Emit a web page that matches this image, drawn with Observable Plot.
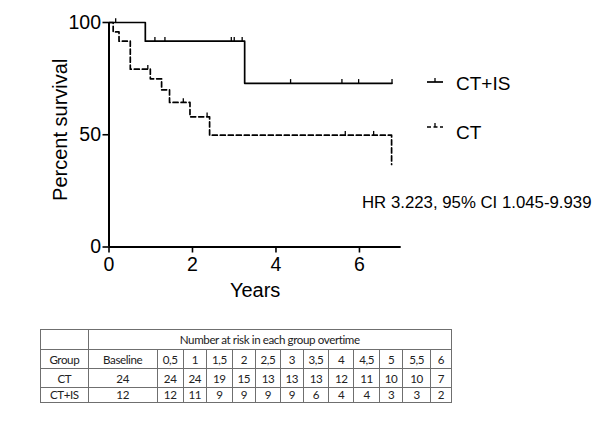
<!DOCTYPE html>
<html>
<head>
<meta charset="utf-8">
<script src="https://cdn.jsdelivr.net/npm/d3@7"></script>
<script src="https://cdn.jsdelivr.net/npm/@observablehq/plot@0.6"></script>
<style>
  html, body { margin: 0; padding: 0; background: #fff; }
  #wrap { position: relative; width: 605px; height: 428px; overflow: hidden; background: #fff; }
  #chart { position: absolute; left: 0; top: 0; }
  .txt { position: absolute; font-family: "Liberation Sans", Arial, sans-serif; line-height: 1; white-space: nowrap; color: #000; }
  table.risk { position: absolute; left: 40px; top: 329px; width: 411px; border-collapse: collapse; table-layout: fixed;
    font-family: Lato, "Open Sans", sans-serif; font-size: 11.6px; letter-spacing: -0.4px; color: #222; }
  table.risk td { border: 1px solid #6f6f6f; text-align: center; vertical-align: middle; padding: 0; overflow: hidden; white-space: nowrap; }
</style>
</head>
<body>
<div id="wrap">
  <div id="chart"></div>
</div>
<script>
// ---- data ----
const ctTime = [0, 0.10, 0.24, 0.51, 0.99, 1.26, 1.45, 1.94, 2.41, 6.77];
const ctSurv = [100, 95.8, 91.7, 79.2, 74.9, 70.0, 64.4, 58.0, 49.8, 36.8];
const ctisTime = [0, 0.87, 3.25, 6.78];
const ctisSurv = [100, 91.7, 72.9, 72.9];
const ctCensorTime = [0.93, 1.78, 2.35, 5.66, 6.34];
const ctCensorSurv = [79.2, 64.4, 58.0, 49.8, 49.8];
const ctisCensorTime = [0.16, 1.10, 1.34, 2.93, 3.00, 3.19, 4.35, 5.58, 5.98, 6.78];
const ctisCensorSurv = [100, 91.7, 91.7, 91.7, 91.7, 91.7, 72.9, 72.9, 72.9, 72.9];
const xTicks = [0, 2, 4, 6];
const yTicks = [0, 50, 100];
const groups = ["CT+IS", "CT"];
const hrText = "HR 3.223, 95% CI 1.045-9.939";
const riskHeader = "Number at risk in each group overtime";
const riskTimes = ["Baseline", "0,5", "1", "1,5", "2", "2,5", "3", "3,5", "4", "4,5", "5", "5,5", "6"];
const riskCT = [24, 24, 24, 19, 15, 13, 13, 13, 12, 11, 10, 10, 7];
const riskCTIS = [12, 12, 11, 9, 9, 9, 9, 6, 4, 4, 3, 3, 2];

// ---- build tables ----
const ct = ctTime.map((t, i) => ({t, s: ctSurv[i]}));
const ctis = ctisTime.map((t, i) => ({t, s: ctisSurv[i]}));
const censors = ctCensorTime.map((t, i) => ({t, s: ctCensorSurv[i]}))
  .concat(ctisCensorTime.map((t, i) => ({t, s: ctisCensorSurv[i]})));

// custom censor-tick symbol (short vertical stroke upward)
const tickUp = {
  draw(context, size) {
    const h = Math.sqrt(size);
    context.moveTo(0, 0);
    context.lineTo(0, -h);
  }
};

const chart = Plot.plot({
  width: 605,
  height: 310,
  marginLeft: 108.5,
  marginRight: 204.3,
  marginTop: 22,
  marginBottom: 63.5,
  style: {fontFamily: "Liberation Sans, Arial, sans-serif", color: "#000", background: "transparent", overflow: "visible"},
  x: {domain: [0, 7]},
  y: {domain: [0, 100]},
  marks: [
    Plot.axisX({ticks: xTicks, tickFormat: d => String(d), tickSize: 6, tickPadding: 4, label: null, fontSize: 19.5, strokeWidth: 1.6}),
    Plot.axisY({ticks: yTicks, tickFormat: d => String(d), tickSize: 6, tickPadding: 2, label: null, fontSize: 19.5, strokeWidth: 1.6}),
    Plot.ruleX([0], {y1: 0, y2: 100, strokeWidth: 2}),
    Plot.ruleY([0], {x1: 0, x2: 7, strokeWidth: 2}),
    Plot.line(ct, {x: "t", y: "s", curve: "step-after", stroke: "#000", strokeWidth: 1.7, strokeDasharray: "5,3"}),
    Plot.line(ctis, {x: "t", y: "s", curve: "step-after", stroke: "#000", strokeWidth: 1.7}),
    Plot.dot(censors, {x: "t", y: "s", symbol: tickUp, r: 2.4, stroke: "#000", strokeWidth: 1.3, fill: "none"}),
    Plot.text(["Percent survival"], {frameAnchor: "left", textAnchor: "middle", rotate: -90, dx: -48.5, dy: -5, fontSize: 20, fill: "#000"}),
    Plot.text(["Years"], {frameAnchor: "bottom", textAnchor: "middle", dy: 50, fontSize: 20, fill: "#000"})
  ]
});
document.getElementById("chart").appendChild(chart);

const wrap = document.getElementById("wrap");

// ---- legend ----
function legendItem(label, dashed, lineY, textTop) {
  const ns = "http://www.w3.org/2000/svg";
  const svg = document.createElementNS(ns, "svg");
  svg.setAttribute("width", 18); svg.setAttribute("height", 10);
  svg.style.position = "absolute";
  svg.style.left = "426px";
  svg.style.top = (lineY - 5) + "px";
  svg.style.overflow = "visible";
  const l = document.createElementNS(ns, "line");
  l.setAttribute("x1", 1); l.setAttribute("x2", 17); l.setAttribute("y1", 5); l.setAttribute("y2", 5);
  l.setAttribute("stroke", "#000"); l.setAttribute("stroke-width", 1.7);
  if (dashed) l.setAttribute("stroke-dasharray", "4,2.5");
  const tk = document.createElementNS(ns, "line");
  tk.setAttribute("x1", 9); tk.setAttribute("x2", 9); tk.setAttribute("y1", 5); tk.setAttribute("y2", 1);
  tk.setAttribute("stroke", "#000"); tk.setAttribute("stroke-width", 1.3);
  svg.appendChild(l); svg.appendChild(tk);
  wrap.appendChild(svg);
  const d = document.createElement("div");
  d.className = "txt";
  d.style.left = "456px"; d.style.top = textTop + "px"; d.style.fontSize = "19px";
  d.textContent = label;
  wrap.appendChild(d);
}
legendItem(groups[0], false, 81.7, 73.9);
legendItem(groups[1], true, 127, 122.9);

const hr = document.createElement("div");
hr.className = "txt";
hr.style.left = "362px"; hr.style.top = "194.6px"; hr.style.fontSize = "16.8px";
hr.textContent = hrText;
wrap.appendChild(hr);

// ---- risk table ----
const colW = [47.7, 69, 26, 23.3, 25.7, 23.3, 25, 22.7, 25.6, 25, 25.7, 23.3, 27.7, 20.7];
const rowH = [20, 19.4, 18.3, 15.3];
const table = document.createElement("table");
table.className = "risk";
const cg = document.createElement("colgroup");
colW.forEach(w => { const c = document.createElement("col"); c.style.width = w + "px"; cg.appendChild(c); });
table.appendChild(cg);
function addRow(cells, h) {
  const tr = document.createElement("tr");
  tr.style.height = h + "px";
  cells.forEach(c => {
    const td = document.createElement("td");
    if (typeof c === "object") { td.textContent = c.text; td.colSpan = c.span; }
    else td.textContent = c;
    tr.appendChild(td);
  });
  table.appendChild(tr);
}
addRow(["", {text: riskHeader, span: riskTimes.length}], rowH[0]);
addRow(["Group", ...riskTimes], rowH[1]);
addRow([groups[1], ...riskCT], rowH[2]);
addRow([groups[0], ...riskCTIS], rowH[3]);
wrap.appendChild(table);
</script>
</body>
</html>
